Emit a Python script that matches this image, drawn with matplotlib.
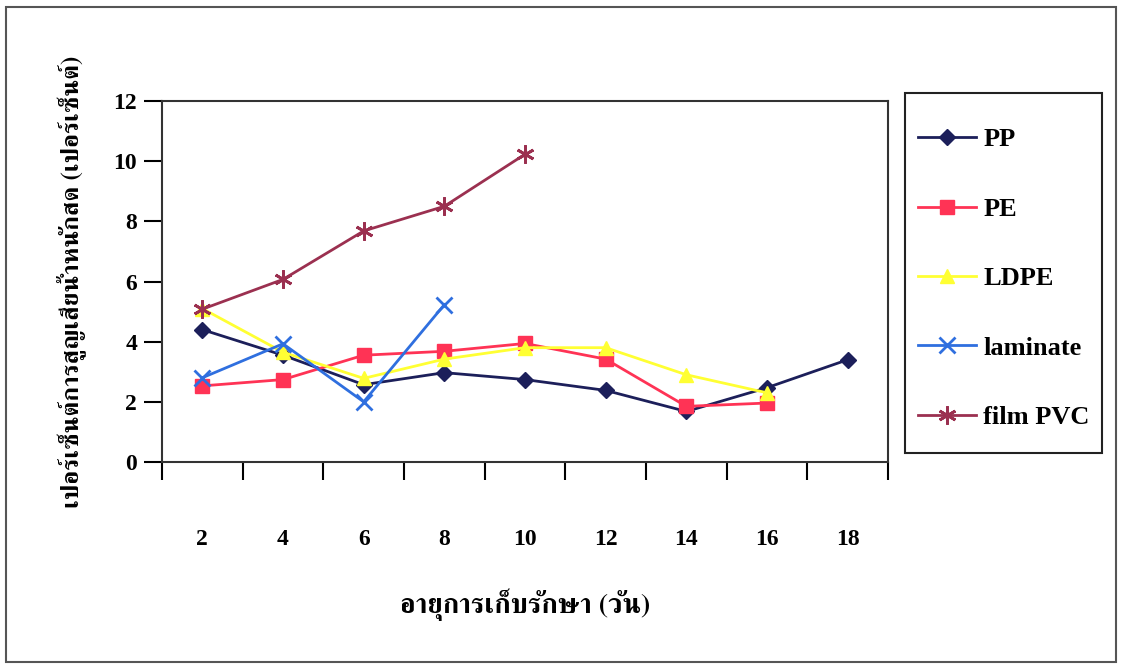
import numpy as np
import matplotlib
matplotlib.use("Agg")
import matplotlib.pyplot as plt
from matplotlib.patches import Rectangle

# storage time (days) and weight loss (%) per packaging
days = [2, 4, 6, 8, 10, 12, 14, 16, 18]
pp = [4.4, 3.55, 2.57, 2.97, 2.74, 2.38, 1.68, 2.47, 3.4]
pe = [2.53, 2.74, 3.55, 3.68, 3.94, 3.42, 1.85, 1.96]
ldpe = [5.1, 3.65, 2.78, 3.42, 3.8, 3.8, 2.9, 2.3]
laminate = [2.8, 3.93, 2.0, 5.23]
film_pvc = [5.08, 6.07, 7.68, 8.5, 10.23]

ylabel_th = "เปอร์เซ็นต์การสูญเสียน้ำหนักสด (เปอร์เซ็นต์)"
xlabel_th = "อายุการเก็บรักษา (วัน)"

thai_family = ["FreeSerif", "Liberation Serif", "DejaVu Sans"]
plt.rcParams["font.family"] = ["Liberation Serif", "FreeSerif", "DejaVu Serif"]

W, H = 1122, 664
fig = plt.figure(figsize=(W / 100, H / 100), dpi=100)
ax = fig.add_axes([162 / W, 1 - 462 / H, 726 / W, 361 / H])

pos = np.arange(len(days))
ax.plot(pos[:len(pp)], pp, color="#1c1f5a", lw=2, marker="D", ms=8, label="PP")
ax.plot(pos[:len(pe)], pe, color="#ff3355", lw=2, marker="s", ms=10, label="PE")
ax.plot(pos[:len(ldpe)], ldpe, color="#ffff33", lw=2, marker="^", ms=10, label="LDPE")
ax.plot(pos[:len(laminate)], laminate, color="#2f6fdf", lw=2, marker="x", ms=12, mew=2, label="laminate")
ax.plot(pos[:len(film_pvc)], film_pvc, color="#9b3050", lw=2, marker=(6, 2, 0), ms=13, mew=2, label="film PVC")

ax.set_xlim(-0.5, len(days) - 0.5)
ax.set_ylim(0, 12)
ax.set_yticks(np.arange(0, 13, 2))
ax.set_xticks(pos)
ax.set_xticklabels([str(d) for d in days])
ax.set_xticks(np.arange(-0.5, len(days)), minor=True)
ax.tick_params(axis="x", which="major", length=0, pad=48, labelsize=17)
ax.tick_params(axis="x", which="minor", length=13, width=1.5, direction="out")
ax.tick_params(axis="y", length=13, width=1.5, direction="out", pad=5, labelsize=17)
for lab in ax.get_xticklabels() + ax.get_yticklabels():
    lab.set_fontweight("bold")
for s in ax.spines.values():
    s.set_linewidth(1.5)
    s.set_color("#333333")

ax.set_ylabel(ylabel_th, family=thai_family, fontsize=18, fontweight="bold", labelpad=20)
ax.set_xlabel(xlabel_th, family=thai_family, fontsize=20, fontweight="bold", labelpad=28)

# legend without its own frame, box drawn separately to match size
leg = fig.legend(loc="upper left", bbox_to_anchor=(918 / W, 1 - 128 / H),
                 frameon=False, prop={"size": 19, "weight": "bold"},
                 handlelength=2.2, labelspacing=1.74, borderpad=0,
                 handletextpad=0.28, borderaxespad=0)
fig.patches.append(Rectangle((905 / W, 1 - 453 / H), 197 / W, 360 / H,
                             transform=fig.transFigure, fill=False, lw=1.5, ec="#222222"))

# outer chart border
fig.patches.append(Rectangle((6 / W, 2 / H), 1110 / W, 655 / H,
                             transform=fig.transFigure, fill=False, lw=1.5, ec="#555555"))

fig.savefig("out.png", dpi=100)
